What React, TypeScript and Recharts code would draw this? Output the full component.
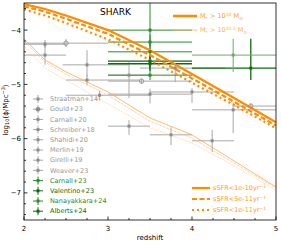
import React from 'react';
import { ComposedChart, Line, Scatter, XAxis, YAxis, ErrorBar } from 'recharts';

// ---- model lines (SHARK) ----
const Z_GRID = [2, 2.25, 2.5, 3, 3.5, 4, 4.5, 5];
const M10_SOLID = [-3.52, -3.61, -3.73, -4.0, -4.37, -4.81, -5.25, -5.7];
const M10_DASHED = [-3.56, -3.66, -3.79, -4.07, -4.46, -4.89, -5.32, -5.76];
const M10_DOTTED = [-3.62, -3.73, -3.87, -4.17, -4.55, -4.97, -5.38, -5.81];
const M105_SOLID = [-4.16, -4.55, -4.77, -5.14, -5.62, -5.93, -6.41, -6.89];
const M105_DASHED = [-4.2, -4.59, -4.81, -5.2, -5.68, -5.99, -6.45, -6.91];
const M105_DOTTED = [-4.29, -4.7, -4.92, -5.36, -5.8, -6.08, -6.5, -6.95];

// ---- observations (grey) ----
const GRAY_Z = [2.25, 2.25, 2.75, 2.75, 3.25, 3.8, 2.9, 3.5, 4.0, 4.49, 3.25, 3.75, 4.24];
const GRAY_V = [-4.26, -4.46, -4.64, -4.92, -4.83, -4.7, -5.2, -5.18, -5.14, -5.47, -5.77, -5.93, -6.04];
const GRAY_ZLO = [2.0, 2.0, 2.46, 2.5, 3.0, 3.38, 2.5, 3.0, 3.5, 4.0, 3.0, 3.5, 4.0];
const GRAY_ZHI = [2.5, 2.5, 3.25, 3.38, 3.5, 4.4, 3.5, 4.0, 4.5, 5.0, 3.5, 4.0, 4.5];
const GRAY_VLO = [-4.33, -4.64, -4.86, -5.02, -5.25, -4.96, -5.3, -5.35, -5.34, -5.9, -5.93, -6.12, -6.25];
const GRAY_VHI = [-4.18, -4.22, -4.37, -4.82, -4.59, -4.61, -5.12, -5.08, -5.07, -5.33, -5.66, -5.79, -5.84];

// Gould+23 (open circles)
const GOULD_Z = [2.5, 3.4, 4.7];
const GOULD_V = [-4.24, -4.94, -5.4];
const GOULD_ZLO = [2.0, 3.0, 4.5];
const GOULD_ZHI = [3.0, 4.0, 5.0];
const GOULD_VLO = [-4.31, -4.99, -5.45];
const GOULD_VHI = [-4.16, -4.89, -5.35];

// ---- observations (green) ----
const GREEN_Z = [3.5, 3.5, 3.5, 3.5, 3.5, 3.5, 4.49, 4.7];
const GREEN_V = [-4.0, -4.22, -4.4, -4.57, -4.62, -4.83, -4.46, -4.7];
const GREEN_ZLO = [3.0, 3.0, 3.0, 3.0, 3.0, 3.0, 4.0, 4.0];
const GREEN_ZHI = [4.0, 4.0, 4.0, 4.0, 4.0, 4.0, 5.0, 5.0];
const GREEN_VLO = [-4.3, -4.35, -4.55, -4.7, -4.75, -4.92, -4.77, -4.92];
const GREEN_VHI = [-3.5, -4.08, -4.25, -4.45, -4.5, -4.7, -4.16, -4.16];
const GREEN_SHADE = ['mid', 'mid', 'mid', 'dark', 'dark', 'mid', 'light', 'dark'];

// ---- labels / ticks ----
const X_TICKS = [2, 2.25, 2.5, 2.75, 3, 3.25, 3.5, 3.75, 4, 4.25, 4.5, 4.75, 5];
const Y_TICKS = [-7.4, -7.2, -7.0, -6.8, -6.6, -6.4, -6.2, -6.0, -5.8, -5.6, -5.4, -5.2, -5.0, -4.8, -4.6, -4.4, -4.2, -4.0, -3.8, -3.6];
const GRAY_LABELS = ['Straatman+14', 'Gould+23', 'Carnall+20', 'Schreiber+18', 'Shahidi+20', 'Merlin+19', 'Girelli+19', 'Weaver+23'];
const GREEN_LABELS = ['Carnall+23', 'Valentino+23', 'Nanayakkara+24', 'Alberts+24'];
const SSFR_LABELS = ['1e-10', '5e-11', '1e-11'];

const ORANGE = '#ff8c00';
const GRAY = '#a8a8a8';
const GRAY_MK = '#8c8c8c';
const G_DARK = '#0d6b0d';
const G_MID = '#2b8a2b';
const G_LIGHT = '#6cab6c';
const FONT = 'DejaVu Sans';

const lineData = Z_GRID.map((z, i) => ({
  z,
  hs: M10_SOLID[i],
  hd: M10_DASHED[i],
  ht: M10_DOTTED[i],
  ls: M105_SOLID[i],
  ld: M105_DASHED[i],
  lt: M105_DOTTED[i],
}));

const mk = (z: number[], v: number[], zlo: number[], zhi: number[], vlo: number[], vhi: number[]) =>
  z.map((zz, i) => ({
    z: zz,
    v: v[i],
    ex: [zz - zlo[i], zhi[i] - zz],
    ey: [v[i] - vlo[i], vhi[i] - v[i]],
  }));

const grayPts = mk(GRAY_Z, GRAY_V, GRAY_ZLO, GRAY_ZHI, GRAY_VLO, GRAY_VHI);
const gouldPts = mk(GOULD_Z, GOULD_V, GOULD_ZLO, GOULD_ZHI, GOULD_VLO, GOULD_VHI);
const greenAll = mk(GREEN_Z, GREEN_V, GREEN_ZLO, GREEN_ZHI, GREEN_VLO, GREEN_VHI);
const greenMid = greenAll.filter((_, i) => GREEN_SHADE[i] === 'mid');
const greenDark = greenAll.filter((_, i) => GREEN_SHADE[i] === 'dark');
const greenLight = greenAll.filter((_, i) => GREEN_SHADE[i] === 'light');

const isMajor = (v: number) => Math.abs(v - Math.round(v)) < 1e-6;

const XTick = (props: any) => {
  const { x, y, payload } = props;
  const v = payload.value;
  const major = isMajor(v);
  return (
    <g>
      <line x1={x} x2={x} y1={y} y2={y - (major ? 3.5 : 2)} stroke="#000" strokeWidth={0.8} />
      {major && (
        <text x={x} y={y + 10.5} textAnchor="middle" fontSize={7} fontFamily={FONT} fill="#000">
          {String(Math.round(v))}
        </text>
      )}
    </g>
  );
};

const YTick = (props: any) => {
  const { x, y, payload } = props;
  const v = payload.value;
  const major = isMajor(v);
  return (
    <g>
      <line x1={x} x2={x + (major ? 3.5 : 2)} y1={y} y2={y} stroke="#000" strokeWidth={0.8} />
      {major && (
        <text x={x - 3} y={y} dy="0.35em" textAnchor="end" fontSize={7} fontFamily={FONT} fill="#000">
          {'\u2212' + Math.abs(Math.round(v))}
        </text>
      )}
    </g>
  );
};

const squareShape = (color: string, s: number) => (props: any) => {
  const { cx, cy } = props;
  if (cx == null || cy == null) return <g />;
  return <rect x={cx - s / 2} y={cy - s / 2} width={s} height={s} fill={color} />;
};

const circleShape = (props: any) => {
  const { cx, cy } = props;
  if (cx == null || cy == null) return <g />;
  return <circle cx={cx} cy={cy} r={2.2} fill="none" stroke={GRAY_MK} strokeWidth={0.8} />;
};

const obsSeries = (
  key: string,
  data: any[],
  lineColor: string,
  shape: any,
  sw: number,
) => (
  <Scatter key={key} data={data} dataKey="v" shape={shape} isAnimationActive={false}>
    <ErrorBar dataKey="ex" direction="x" width={0} stroke={lineColor} strokeWidth={sw} isAnimationActive={false} />
    <ErrorBar dataKey="ey" direction="y" width={0} stroke={lineColor} strokeWidth={sw} isAnimationActive={false} />
  </Scatter>
);

const Overlay = () => {
  const legY0 = 99;
  const legDy = 10.2;
  return (
    <svg width={281} height={241} style={{ position: 'absolute', left: 0, top: 0, pointerEvents: 'none' }}>
      <rect x={24} y={3} width={252} height={217} fill="none" stroke="#000" strokeWidth={0.8} />
      <text x={100} y={14.5} fontSize={9} fontFamily={FONT} fill="#000">SHARK</text>

      {/* top-right legend */}
      <line x1={173} x2={197} y1={16} y2={16} stroke={ORANGE} strokeWidth={2.5} />
      <text x={200} y={16} dy="0.35em" fontSize={6.5} fontFamily={FONT} fill="#ff9a2a">
        M<tspan dy={1.5} fontSize={4.5}>*</tspan>
        <tspan dy={-1.5}>{' > 10'}</tspan>
        <tspan dy={-2.5} fontSize={4.5}>10</tspan>
        <tspan dy={2.5}>{' M'}</tspan>
        <tspan dy={1.5} fontSize={4.5}>{'\u2299'}</tspan>
      </text>
      <line x1={173} x2={197} y1={30} y2={30} stroke="#ffb868" strokeWidth={0.8} />
      <text x={200} y={30} dy="0.35em" fontSize={6.5} fontFamily={FONT} fill="#ffb25c">
        M<tspan dy={1.5} fontSize={4.5}>*</tspan>
        <tspan dy={-1.5}>{' > 10'}</tspan>
        <tspan dy={-2.5} fontSize={4.5}>10.5</tspan>
        <tspan dy={2.5}>{' M'}</tspan>
        <tspan dy={1.5} fontSize={4.5}>{'\u2299'}</tspan>
      </text>

      {/* bottom-right legend */}
      {SSFR_LABELS.map((lab, i) => {
        const y = 188 + i * 11;
        const dash = i === 0 ? undefined : i === 1 ? '5 2.5' : '2 3';
        return (
          <g key={lab}>
            <line x1={192} x2={210} y1={y} y2={y} stroke={ORANGE} strokeWidth={2.2} strokeDasharray={dash} />
            <text x={213} y={y} dy="0.35em" fontSize={6.5} fontFamily={FONT} fill="#ff9a2a">
              {'sSFR<' + lab + 'yr'}
              <tspan dy={-2.5} fontSize={4.5}>{'\u22121'}</tspan>
            </text>
          </g>
        );
      })}

      {/* left legend */}
      {[...GRAY_LABELS, ...GREEN_LABELS].map((lab, i) => {
        const y = legY0 + i * legDy;
        const green = i >= GRAY_LABELS.length;
        const col = green ? (i % 2 === 0 ? G_MID : G_DARK) : GRAY;
        const mcol = green ? col : GRAY_MK;
        return (
          <g key={lab}>
            <line x1={33} x2={43} y1={y} y2={y} stroke={col} strokeWidth={1} />
            <line x1={38} x2={38} y1={y - 4} y2={y + 4} stroke={col} strokeWidth={1} />
            {lab === 'Gould+23' ? (
              <circle cx={38} cy={y} r={2.3} fill={GRAY_MK} />
            ) : (
              <rect x={36.5} y={y - 1.5} width={3} height={3} fill={mcol} />
            )}
            <text x={50} y={y} dy="0.35em" fontSize={6.5} fontFamily={FONT} fill={green ? col : '#999999'}>
              {lab}
            </text>
          </g>
        );
      })}

      {/* axis labels */}
      <text x={150} y={239.5} textAnchor="middle" fontSize={7} fontFamily={FONT} fill="#000">redshift</text>
      <text transform="translate(7.5,110) rotate(-90)" textAnchor="middle" fontSize={7} fontFamily={FONT} fill="#000">
        log<tspan dy={1.5} fontSize={5}>10</tspan>
        <tspan dy={-1.5}>({'\u03d5'}/Mpc</tspan>
        <tspan dy={-2.5} fontSize={5}>{'\u22123'}</tspan>
        <tspan dy={2.5}>)</tspan>
      </text>
    </svg>
  );
};

export default function App() {
  return (
    <div style={{ position: 'absolute', left: 0, top: 0, width: 281, height: 241, background: '#fff' }}>
      <ComposedChart
        width={281}
        height={241}
        data={lineData}
        margin={{ top: 3, right: 5, bottom: 0, left: 0 }}
      >
        <XAxis
          type="number"
          dataKey="z"
          domain={[2, 5]}
          ticks={X_TICKS}
          interval={0}
          tick={<XTick />}
          tickLine={false}
          axisLine={false}
          tickSize={0}
          tickMargin={0}
          height={21}
          allowDataOverflow
        />
        <YAxis
          type="number"
          domain={[-7.5, -3.5]}
          ticks={Y_TICKS}
          interval={0}
          tick={<YTick />}
          tickLine={false}
          axisLine={false}
          tickSize={0}
          tickMargin={0}
          width={24}
          allowDataOverflow
        />
        {obsSeries('gray', grayPts, GRAY, squareShape(GRAY_MK, 3), 1)}
        {obsSeries('gould', gouldPts, GRAY, circleShape, 1)}
        {obsSeries('gmid', greenMid, G_MID, squareShape(G_MID, 3), 1)}
        {obsSeries('gdark', greenDark, G_DARK, squareShape(G_DARK, 3), 1.3)}
        {obsSeries('glight', greenLight, G_LIGHT, squareShape(G_LIGHT, 3), 1)}

        <Line dataKey="ls" type="linear" stroke="#ffa94f" strokeWidth={0.8} dot={false} isAnimationActive={false} />
        <Line dataKey="ld" type="linear" stroke="#ffc285" strokeWidth={0.7} strokeDasharray="3 1" dot={false} isAnimationActive={false} />
        <Line dataKey="lt" type="linear" stroke="#ffc285" strokeWidth={0.7} strokeDasharray="1 1" dot={false} isAnimationActive={false} />
        <Line dataKey="hs" type="linear" stroke={ORANGE} strokeWidth={2.2} dot={false} isAnimationActive={false} />
        <Line dataKey="hd" type="linear" stroke={ORANGE} strokeWidth={2.2} strokeDasharray="5 2.5" dot={false} isAnimationActive={false} />
        <Line dataKey="ht" type="linear" stroke={ORANGE} strokeWidth={2.2} strokeDasharray="2 3" dot={false} isAnimationActive={false} />
      </ComposedChart>
      <Overlay />
    </div>
  );
}
